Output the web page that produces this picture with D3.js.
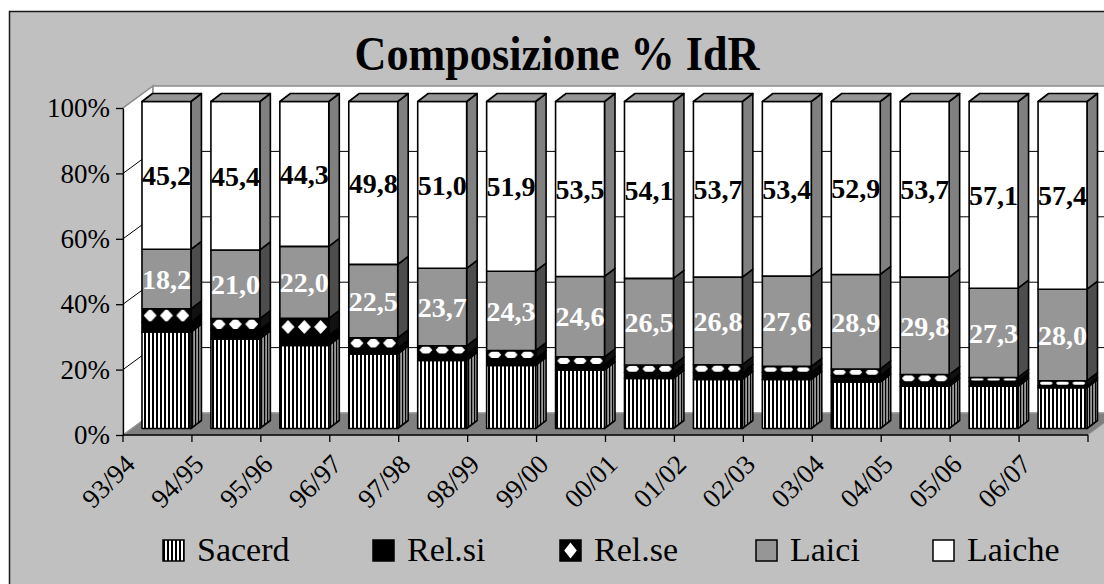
<!DOCTYPE html>
<html>
<head>
<meta charset="utf-8">
<title>Composizione % IdR</title>
<script src="https://cdnjs.cloudflare.com/ajax/libs/d3/7.8.5/d3.min.js"></script>
<style>
    body { margin: 0; background: #fff; }
    svg { display: block; }
</style>
</head>
<body>
<svg id="chart" width="1104" height="584"></svg>
<script>
// data (percent shares per school year)
const categories = ["93/94", "94/95", "95/96", "96/97", "97/98", "98/99", "99/00",
    "00/01", "01/02", "02/03", "03/04", "04/05", "05/06", "06/07"];
const sacerd = [29.5, 27.4, 25.4, 22.8, 20.8, 19.3, 17.9, 15.3, 15.0, 15.0, 14.2, 12.9, 12.9, 12.5];
const relSi  = [3.0, 2.8, 3.0, 1.7, 1.9, 2.0, 1.6, 1.8, 2.1, 2.1, 2.0, 1.3, 1.5, 0.6];
const relSe  = [4.1, 3.4, 5.3, 3.2, 2.6, 2.5, 2.4, 2.3, 2.4, 1.9, 2.0, 2.3, 1.2, 1.5];
const laici  = [18.2, 21.0, 22.0, 22.5, 23.7, 24.3, 24.6, 26.5, 26.8, 27.6, 28.9, 29.8, 27.3, 28.0];
const laiche = [45.2, 45.4, 44.3, 49.8, 51.0, 51.9, 53.5, 54.1, 53.7, 53.4, 52.9, 53.7, 57.1, 57.4];
const seriesNames = ["Sacerd", "Rel.si", "Rel.se", "Laici", "Laiche"];
const yTicks = [0, 0.2, 0.4, 0.6, 0.8, 1];

const FONT = "'Liberation Serif', 'Times New Roman', serif";

const rows = categories.map((c, i) => ({
    cat: c, "Sacerd": sacerd[i], "Rel.si": relSi[i], "Rel.se": relSe[i],
    "Laici": laici[i], "Laiche": laiche[i]
}));

const svg = d3.select("#chart").attr("font-family", FONT);

// 3d geometry
const wall = [30, -22];   // depth of the walls
const off = [9, -6.5];    // bars sit a bit back from the front
const deep = [10.5, -8];  // depth of a bar

const x = d3.scaleBand().domain(categories).range([123, 1088])
    .paddingInner(0.29).paddingOuter(0.145);
const y = d3.scaleLinear().domain([0, 1]).range([435, 108]);

const stack = d3.stack().keys(seriesNames).offset(d3.stackOffsetExpand);
const layers = stack(rows);

// patterns
const defs = svg.append("defs");
const stripes = defs.append("pattern").attr("id", "sacFront")
    .attr("patternUnits", "userSpaceOnUse").attr("width", 4).attr("height", 4);
stripes.append("rect").attr("width", 4).attr("height", 4).attr("fill", "#fff");
stripes.append("rect").attr("width", 2).attr("height", 4).attr("fill", "#000");

const sideStripes = defs.append("pattern").attr("id", "sacSide")
    .attr("patternUnits", "userSpaceOnUse").attr("width", 3).attr("height", 3);
sideStripes.append("rect").attr("width", 3).attr("height", 3).attr("fill", "#9a9a9a");
sideStripes.append("rect").attr("width", 1.2).attr("height", 3).attr("fill", "#000");

const legendDiamond = defs.append("pattern").attr("id", "relseLegend")
    .attr("patternUnits", "objectBoundingBox").attr("width", 1).attr("height", 1)
    .attr("patternContentUnits", "objectBoundingBox");
legendDiamond.append("rect").attr("width", 1).attr("height", 1).attr("fill", "#000");
legendDiamond.append("path").attr("d", "M0.5,0.12L0.8,0.5L0.5,0.88L0.2,0.5Z").attr("fill", "#fff");

// background + frame
svg.append("rect").attr("x", 9.5).attr("y", 11.5).attr("width", 1120).attr("height", 600)
    .attr("fill", "#c0c0c0").attr("stroke", "#1a1a1a").attr("stroke-width", 1.5);

// title
svg.append("text").attr("x", 557).attr("y", 70).attr("text-anchor", "middle")
    .attr("font-family", FONT)
    .attr("font-size", 48).attr("font-weight", "bold")
    .attr("textLength", 405).attr("lengthAdjust", "spacingAndGlyphs")
    .text("Composizione % IdR");

const [xa, xb] = x.range();
const ya = y(0), yb = y(1);

// walls and floor
svg.append("polygon")
    .attr("points", [[xa, ya], [xa, yb], [xa + wall[0], yb + wall[1]], [xa + wall[0], ya + wall[1]]].join(" "))
    .attr("fill", "#fff").attr("stroke", "#8c8c8c").attr("stroke-width", 1.5);
svg.append("rect").attr("x", xa + wall[0]).attr("y", yb + wall[1])
    .attr("width", xb - xa).attr("height", ya - yb)
    .attr("fill", "#fff").attr("stroke", "#8c8c8c").attr("stroke-width", 1.5);
svg.append("polygon")
    .attr("points", [[xa, ya], [xa + wall[0], ya + wall[1]], [xb + wall[0], ya + wall[1]], [xb, ya]].join(" "))
    .attr("fill", "#808080").attr("stroke", "#a0a0a0").attr("stroke-width", 1);

// gridlines on side wall and back wall
const grid = svg.append("g").attr("stroke", "#000").attr("stroke-width", 1);
yTicks.filter(t => t > 0 && t < 1).forEach(t => {
    grid.append("line").attr("x1", xa).attr("y1", y(t))
        .attr("x2", xa + wall[0]).attr("y2", y(t) + wall[1]);
    grid.append("line").attr("x1", xa + wall[0]).attr("y1", y(t) + wall[1])
        .attr("x2", xb + wall[0]).attr("y2", y(t) + wall[1]);
});

// y axis
const yAxis = svg.append("g").attr("transform", `translate(${xa},0)`)
    .call(d3.axisLeft(y).tickValues(yTicks).tickFormat(d3.format(".0%")).tickSize(7).tickSizeOuter(0).tickPadding(6));
yAxis.attr("font-family", FONT);
yAxis.select(".domain").attr("stroke", "#000").attr("stroke-width", 1.3);
yAxis.selectAll(".tick line").attr("stroke", "#000").attr("stroke-width", 1.3);
yAxis.selectAll("text").attr("font-size", 27).attr("fill", "#000").attr("font-family", FONT);

// x axis: line with ticks between categories, labels rotated
svg.append("line").attr("x1", xa).attr("x2", xb).attr("y1", ya).attr("y2", ya)
    .attr("stroke", "#000").attr("stroke-width", 1.3);
d3.range(categories.length + 1).forEach(i => {
    const tx = xa + i * x.step();
    svg.append("line").attr("x1", tx).attr("x2", tx).attr("y1", ya).attr("y2", ya + 7)
        .attr("stroke", "#000").attr("stroke-width", 1.3);
});
svg.append("g").selectAll("text").data(categories).join("text")
    .attr("text-anchor", "end")
    .attr("font-family", FONT)
    .attr("font-size", 27)
    .attr("transform", d => `translate(${x(d) + x.bandwidth() / 2 + off[0] - 30},${ya + 31}) rotate(-45)`)
    .text(d => d);

// bars
const bw = x.bandwidth();
const frontFill = { "Sacerd": "url(#sacFront)", "Rel.si": "#000", "Laici": "#969696", "Laiche": "#fff" };
const sideFill = { "Sacerd": "url(#sacSide)", "Rel.si": "#000", "Rel.se": "#111", "Laici": "#4d4d4d", "Laiche": "#808080" };

const bars = svg.append("g").attr("stroke", "#000").attr("stroke-width", 1.6).attr("stroke-linejoin", "round");
categories.forEach((cat, i) => {
    const xl = x(cat) + off[0];
    const xr = xl + bw;
    layers.forEach((layer, k) => {
        const key = layer.key;
        const yt = y(layer[i][1]) + off[1];
        const ybm = y(layer[i][0]) + off[1];
        let fill = frontFill[key];
        if (key === "Rel.se") {
            // black with white diamonds, one row across the segment
            const pid = "relse" + i;
            const p = defs.append("pattern").attr("id", pid)
                .attr("patternUnits", "userSpaceOnUse")
                .attr("x", xl).attr("y", (yt + ybm) / 2 - 8)
                .attr("width", bw / 3).attr("height", 16);
            p.append("rect").attr("width", bw / 3).attr("height", 16).attr("fill", "#000");
            p.append("path")
                .attr("d", `M${bw / 6},1L${bw / 6 + 6.5},8L${bw / 6},15L${bw / 6 - 6.5},8Z`)
                .attr("fill", "#fff");
            fill = `url(#${pid})`;
        }
        bars.append("polygon")
            .attr("points", [[xr, yt], [xr + deep[0], yt + deep[1]], [xr + deep[0], ybm + deep[1]], [xr, ybm]].join(" "))
            .attr("fill", sideFill[key]);
        bars.append("rect").attr("x", xl).attr("y", yt).attr("width", bw).attr("height", ybm - yt)
            .attr("fill", fill);
        if (k === layers.length - 1) {
            bars.append("polygon")
                .attr("points", [[xl, yt], [xl + deep[0], yt + deep[1]], [xr + deep[0], yt + deep[1]], [xr, yt]].join(" "))
                .attr("fill", "#969696");
        }
    });
});

// value labels for Laici and Laiche
const fmt = v => v.toFixed(1).replace(".", ",");
[["Laici", laici, "#fff"], ["Laiche", laiche, "#000"]].forEach(([key, vals, col]) => {
    const layer = layers.find(l => l.key === key);
    svg.append("g").selectAll("text").data(categories).join("text")
        .attr("x", d => x(d) + off[0] + bw / 2)
        .attr("y", (d, i) => y((layer[i][0] + layer[i][1]) / 2) + off[1])
        .attr("dy", "0.35em")
        .attr("text-anchor", "middle")
        .attr("font-family", FONT)
        .attr("font-size", 28).attr("font-weight", "bold")
        .attr("fill", col)
        .text((d, i) => fmt(vals[i]));
});

// legend
const legendX = [163, 373, 560, 756, 933];
const legendFill = { "Sacerd": "url(#sacFront)", "Rel.si": "#000", "Rel.se": "url(#relseLegend)", "Laici": "#969696", "Laiche": "#fff" };
const legend = svg.append("g").selectAll("g").data(seriesNames).join("g")
    .attr("transform", (d, i) => `translate(${legendX[i]},540)`);
legend.append("rect").attr("width", 21).attr("height", 21)
    .attr("fill", d => legendFill[d]).attr("stroke", "#000").attr("stroke-width", 1.5);
legend.append("text").attr("x", 34).attr("y", 21).attr("font-family", FONT)
    .attr("font-size", 34).text(d => d);
</script>
</body>
</html>
